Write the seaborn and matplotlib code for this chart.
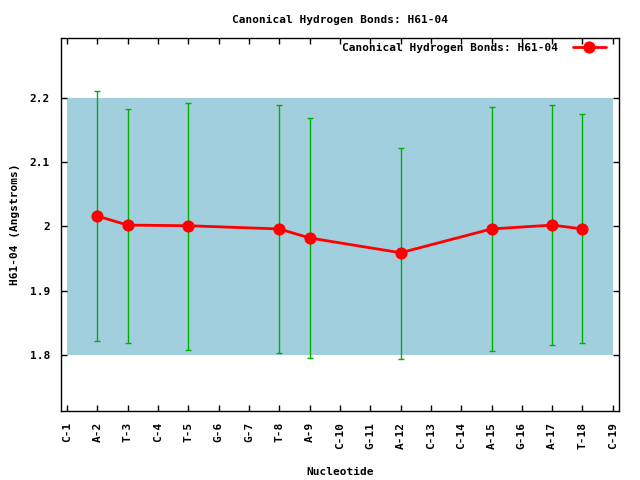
import numpy as np
import pandas as pd
import matplotlib
matplotlib.use("Agg")
import matplotlib.pyplot as plt
import seaborn as sb

# data
nucleotides = ["C-1", "A-2", "T-3", "C-4", "T-5", "G-6", "G-7", "T-8", "A-9", "C-10",
               "G-11", "A-12", "C-13", "C-14", "A-15", "G-16", "A-17", "T-18", "C-19"]
pts = ["A-2", "T-3", "T-5", "T-8", "A-9", "A-12", "A-15", "A-17", "T-18"]
mean = [2.016, 2.002, 2.001, 1.996, 1.982, 1.959, 1.996, 2.002, 1.996]
err_hi = [2.211, 2.183, 2.192, 2.189, 2.169, 2.122, 2.186, 2.189, 2.175]
err_lo = [1.822, 1.819, 1.808, 1.803, 1.795, 1.794, 1.806, 1.816, 1.819]
band = [1.8, 2.2]
yticks = [1.8, 1.9, 2.0, 2.1, 2.2]
ytick_labels = ["1.8", "1.9", "2", "2.1", "2.2"]

sb.set_style("ticks")
plt.rcParams["font.family"] = ["DejaVu Sans Mono"]
plt.rcParams["font.weight"] = "bold"
plt.rcParams["font.size"] = 8
for k in ["text.color", "axes.labelcolor", "xtick.color", "ytick.color", "axes.edgecolor"]:
    plt.rcParams[k] = "black"

df = pd.DataFrame({"pos": [nucleotides.index(p) for p in pts], "val": mean,
                   "lo": err_lo, "hi": err_hi})

fig = plt.figure(figsize=(6.4, 4.8), dpi=100)
ax = fig.add_axes([0.0953, 0.1438, 0.8717, 0.7772])

ax.fill_between([0, len(nucleotides) - 1], band[0], band[1], color="#a2cfde", lw=0, zorder=0)

ax.errorbar(df["pos"], df["val"],
            yerr=[df["val"] - df["lo"], df["hi"] - df["val"]],
            fmt="none", ecolor="#00b000", elinewidth=1, capsize=2.5, capthick=1, zorder=2)
sb.lineplot(data=df, x="pos", y="val", color="red", lw=2, marker="o", markersize=8,
            markeredgecolor="red", ax=ax, zorder=3, label="Canonical Hydrogen Bonds: H61-04")

ax.set_xlim(-0.2, 18.2)
ax.set_ylim(1.713, 2.293)
ax.set_xticks(range(len(nucleotides)))
ax.set_xticklabels(nucleotides, rotation=90)
ax.set_yticks(yticks)
ax.set_yticklabels(ytick_labels)
ax.tick_params(direction="in", top=True, right=True, length=4, width=1, pad=8)
for s in ax.spines.values():
    s.set_visible(True)
    s.set_linewidth(1)
    s.set_color("black")

ax.set_title("Canonical Hydrogen Bonds: H61-04", fontsize=8, fontweight="bold", pad=11)
ax.set_xlabel("Nucleotide", fontsize=8, fontweight="bold", labelpad=13)
ax.set_ylabel("H61-04 (Angstroms)", fontsize=8, fontweight="bold", labelpad=7)

leg = ax.legend(loc="upper right", bbox_to_anchor=(0.977, 0.987), frameon=False,
                markerfirst=False, handlelength=3, handletextpad=1.3,
                borderaxespad=0, borderpad=0, prop={"weight": "bold", "size": 8})

plt.savefig("out.png", dpi=100)
